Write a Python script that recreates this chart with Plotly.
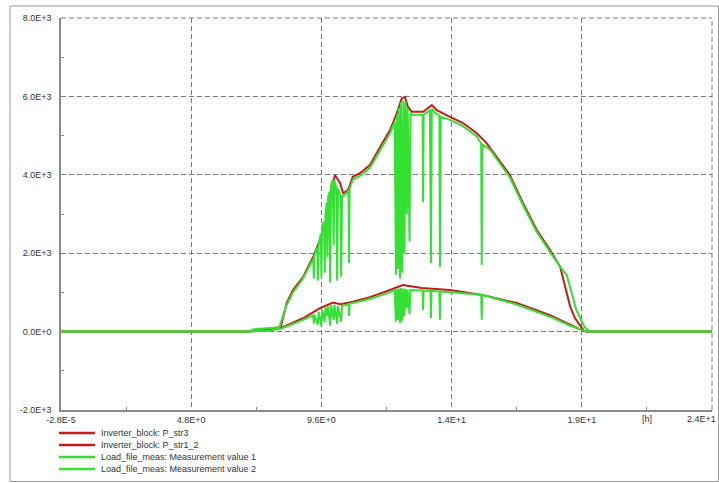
import plotly.graph_objects as go

# ---------------- data ----------------
series_names = [
    "Inverter_block: P_str3",
    "Inverter_block: P_str1_2",
    "Load_file_meas: Measurement value 1",
    "Load_file_meas: Measurement value 2",
]

# Inverter_block: P_str3 (red, large curve)  hours / W
p_str3_t = [0, 6.9, 7.3, 7.7, 8.1, 8.32, 8.55, 8.92, 9.29, 9.55, 9.81, 9.92, 10.1,
            10.29, 10.4, 10.58, 10.76, 11.02, 11.39, 11.76, 12.13, 12.38, 12.56,
            12.68, 12.79, 12.93, 13.35, 13.67, 13.85, 14.34, 14.82, 15.33, 15.69,
            16.55, 17.03, 17.54, 18.03, 18.40, 18.58, 18.77, 18.95, 19.26, 19.38, 24]
p_str3_v = [0, 0, 40, 70, 110, 730, 1060, 1390, 1900, 2340, 2920, 3530, 3990,
            3790, 3530, 3610, 3950, 4040, 4250, 4700, 5140, 5570, 5950,
            5990, 5730, 5610, 5610, 5780, 5650, 5480, 5320, 5060, 4810,
            3990, 3280, 2590, 2080, 1660, 1150, 640, 340, 40, 0, 0]

# Inverter_block: P_str1_2 (red, small curve)
p_str12_t = [0, 6.9, 7.7, 8.14, 8.92, 9.55, 10.03, 10.3, 10.76, 11.39, 12.13,
             12.6, 13.3, 14.34, 15.57, 16.8, 18.03, 18.77, 19.26, 19.4, 24]
p_str12_v = [0, 0, 40, 100, 340, 600, 740, 700, 760, 880, 1060,
             1190, 1110, 1060, 930, 730, 420, 170, 20, 0, 0]

# Load_file_meas: Measurement value 1 (green, large curve with dropouts)
meas1_t = [0, 6.9, 7.1, 7.6, 8.05, 8.3, 8.55, 8.9, 9.25,
           9.30, 9.32, 9.34, 9.45, 9.47, 9.50, 9.58, 9.60, 9.63, 9.70, 9.72, 9.75,
           9.80, 9.82, 9.85, 9.90, 9.92, 9.96, 10.02, 10.05, 10.08, 10.15, 10.18, 10.21,
           10.30, 10.33, 10.36, 10.45, 10.60, 10.62, 10.64, 10.76, 11.02, 11.39,
           11.76, 12.13, 12.30, 12.35, 12.38, 12.42, 12.45, 12.50, 12.53, 12.58, 12.62,
           12.66, 12.70, 12.75, 12.78, 12.85, 12.88, 12.95, 13.33, 13.35, 13.37,
           13.60, 13.64, 13.67, 13.80, 13.95, 13.97, 14.0, 14.34, 14.82, 15.33,
           15.49, 15.51, 15.53, 15.82, 16.55, 17.03, 17.54, 18.03, 18.40, 18.64,
           19.0, 19.3, 19.5, 24]
meas1_v = [0, 0, 60, 90, 110, 650, 1000, 1330, 1820,
           1850, 1350, 1950, 2150, 1300, 2250, 2500, 1400, 2700, 2800, 1500, 3000,
           3300, 1900, 3450, 3550, 1250, 3750, 3880, 2200, 3850, 3700, 1300, 3650,
           3480, 1400, 3450, 3480, 3600, 1750, 3650, 3880, 3970, 4180,
           4630, 5060, 5350, 1450, 5500, 1600, 5700, 1350, 5850, 1500, 5900,
           2000, 5850, 3000, 5700, 2300, 5580, 5530, 5530, 3300, 5530,
           5650, 1750, 5680, 5580, 5520, 1650, 5480, 5400, 5240, 4980,
           4800, 1700, 4780, 4640, 3930, 3230, 2540, 2030, 1650, 1450,
           550, 120, 0, 0]

# Load_file_meas: Measurement value 2 (green, small curve with dropouts)
meas2_t = [0, 6.9, 7.7, 8.14, 8.92, 9.30,
           9.32, 9.34, 9.47, 9.50, 9.60, 9.63, 9.72, 9.75, 9.82, 9.85, 9.92, 9.96,
           10.05, 10.08, 10.18, 10.21, 10.33, 10.36, 10.60, 10.62, 10.64, 11.39,
           12.13, 12.30, 12.35, 12.38, 12.42, 12.45, 12.50, 12.53, 12.58, 12.62,
           12.66, 12.70, 12.75, 12.78, 12.85, 12.88, 13.33, 13.35, 13.37,
           13.62, 13.64, 13.66, 13.95, 13.97, 13.99, 14.34, 15.49, 15.51, 15.53,
           15.69, 16.8, 18.03, 18.77, 19.3, 19.5, 24]
meas2_v = [0, 0, 30, 80, 300, 420,
           200, 430, 180, 500, 150, 560, 250, 620, 400, 650, 150, 680,
           300, 690, 200, 650, 250, 660, 700, 400, 710, 830,
           1000, 1060, 250, 1080, 300, 1100, 220, 1110, 280, 1100,
           400, 1090, 600, 1070, 450, 1060, 1050, 550, 1050,
           1040, 350, 1040, 1020, 300, 1020, 1000, 940, 300, 930,
           910, 690, 380, 150, 20, 0, 0]

x_tickvals = [0, 4.8, 9.6, 14.4, 19.2, 24]
x_ticktext = ["-2.8E-5", "4.8E+0", "9.6E+0", "1.4E+1", "1.9E+1", "2.4E+1"]
y_tickvals = [-2000, 0, 2000, 4000, 6000, 8000]
y_ticktext = ["-2.0E+3", "0.0E+0", "2.0E+3", "4.0E+3", "6.0E+3", "8.0E+3"]
x_unit = "[h]"

RED = "#c41a1a"
GREEN = "#33e033"
colors = [RED, RED, GREEN, GREEN]
FONT = "Liberation Sans Narrow, Liberation Sans, Arial, sans-serif"
GRIDCOLOR = "#7a7a7a"
TICKFONT = dict(family=FONT, size=9, color="#333333")

# ---------------- figure ----------------
fig = go.Figure()
data = [(p_str3_t, p_str3_v), (p_str12_t, p_str12_v), (meas1_t, meas1_v), (meas2_t, meas2_v)]
for (t, v), name, c in zip(data, series_names, colors):
    fig.add_trace(go.Scatter(x=t, y=v, mode="lines", name=name,
                             line=dict(color=c, width=2), showlegend=False))

W, H = 719, 483
L, R, T, B = 61, 7, 18, 73
pw, ph = W - L - R, H - T - B

def px_x(p):
    return (p - L) / pw

def px_y(p):
    return (H - B - p) / ph

# frame around the whole chart
fig.add_shape(type="rect", xref="paper", yref="paper", layer="below",
              x0=px_x(10), x1=px_x(718.5), y0=px_y(481.5), y1=px_y(6),
              line=dict(color="#9a9a9a", width=1), fillcolor="rgba(0,0,0,0)")

# dashed grid lines on the outer edges (top and right), which plotly omits
fig.add_shape(type="line", xref="paper", yref="paper", layer="below",
              x0=0, x1=1, y0=1, y1=1, line=dict(color=GRIDCOLOR, width=1, dash="5px,3px"))
fig.add_shape(type="line", xref="paper", yref="paper", layer="below",
              x0=1, x1=1, y0=0, y1=1, line=dict(color=GRIDCOLOR, width=1, dash="5px,3px"))

# manual legend
legend_rows = [433, 445, 457, 469]
for name, c, ry in zip(series_names, colors, legend_rows):
    fig.add_shape(type="line", xref="paper", yref="paper",
                  x0=px_x(59), x1=px_x(95), y0=px_y(ry), y1=px_y(ry),
                  line=dict(color=c, width=2.5))
    fig.add_annotation(xref="paper", yref="paper", x=px_x(99), y=px_y(ry),
                       text=name, showarrow=False, xanchor="left", yanchor="middle",
                       font=dict(family=FONT, size=9, color="#333333"))

fig.add_annotation(xref="x", yref="paper", x=21.6, y=px_y(419),
                   text=x_unit, showarrow=False, xanchor="center", yanchor="middle",
                   font=TICKFONT)

# last x tick label: right-aligned so it stays inside the picture
fig.add_annotation(xref="paper", yref="paper", x=px_x(718), y=px_y(419),
                   text=x_ticktext[-1], showarrow=False, xanchor="right", yanchor="middle",
                   font=TICKFONT)
x_ticktext_axis = x_ticktext[:-1] + [""]

grid = dict(showgrid=True, gridcolor=GRIDCOLOR, gridwidth=1, griddash="5px,3px")
fig.update_xaxes(range=[0, 24], tickmode="array", tickvals=x_tickvals, ticktext=x_ticktext_axis,
                 showline=True, linecolor="#8a8a8a", linewidth=1.5, zeroline=False,
                 ticks="", automargin=False,
                 tickfont=TICKFONT,
                 minor=dict(tickvals=[2.4, 7.2, 12.0, 16.8, 21.6], ticks="inside",
                            ticklen=3, tickcolor="#8a8a8a", showgrid=False),
                 **grid)
fig.update_yaxes(range=[-2000, 8000], tickmode="array", tickvals=y_tickvals, ticktext=y_ticktext,
                 showline=True, linecolor="#8a8a8a", linewidth=1.5, zeroline=False,
                 ticks="", ticklabelstandoff=6, automargin=False, ticklabeloverflow="allow",
                 tickfont=TICKFONT,
                 minor=dict(tickvals=[-1000, 1000, 3000, 5000, 7000], ticks="inside",
                            ticklen=3, tickcolor="#8a8a8a", showgrid=False),
                 **grid)

fig.update_layout(width=W, height=H, margin=dict(l=L, r=R, t=T, b=B, autoexpand=False),
                  plot_bgcolor="white", paper_bgcolor="white", showlegend=False)

fig.write_html("out.html", config={"displayModeBar": False},
               post_script="document.body.style.margin='0';document.body.style.overflow='hidden';")
